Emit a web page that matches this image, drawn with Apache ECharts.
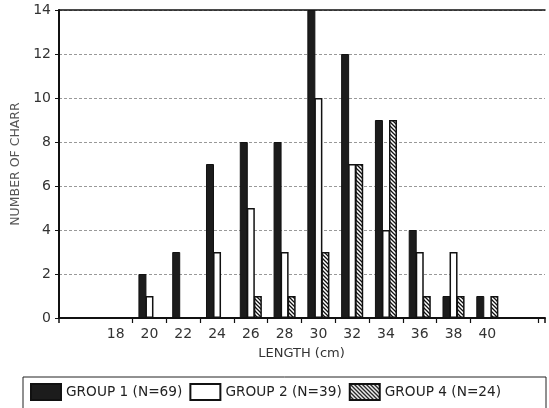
<!DOCTYPE html>
<html>
<head>
<meta charset="utf-8">
<script src="https://cdn.jsdelivr.net/npm/echarts@6/dist/echarts.min.js"></script>
<style>
html,body{margin:0;padding:0;background:#fff;}
#chart{width:549px;height:408px;}
</style>
</head>
<body>
<div id="chart"></div>
<script>
// ---- data ----
var categories = ["", "18", "20", "22", "24", "26", "28", "30", "32", "34", "36", "38", "40", ""];
var group1 = [0, 0, 2, 3, 7, 8, 8, 14, 12, 9, 4, 1, 1, 0];
var group2 = [0, 0, 1, 0, 3, 5, 3, 10, 7, 4, 3, 3, 0, 0];
var group4 = [0, 0, 0, 0, 0, 1, 1, 3, 7, 9, 1, 1, 1, 0];
var seriesNames = ["GROUP 1 (N=69)", "GROUP 2 (N=39)", "GROUP 4 (N=24)"];
var yTicks = [0, 2, 4, 6, 8, 10, 12, 14];

// hatch pattern
var pc = document.createElement('canvas');
pc.width = 4; pc.height = 4;
var ctx = pc.getContext('2d');
ctx.fillStyle = '#fff';
ctx.fillRect(0, 0, 4, 4);
ctx.strokeStyle = '#111';
ctx.lineWidth = 1.3;
ctx.beginPath();
ctx.moveTo(-1, -1); ctx.lineTo(5, 5);
ctx.moveTo(-1, 3); ctx.lineTo(1, 5);
ctx.moveTo(3, -1); ctx.lineTo(5, 1);
ctx.stroke();

function clean(arr) { return arr.map(function (v) { return v === 0 ? null : v; }); }

var font = 'DejaVu Sans';
var chart = echarts.init(document.getElementById('chart'), null, { renderer: 'canvas' });
chart.setOption({
  animation: false,
  backgroundColor: '#fff',
  textStyle: { fontFamily: font },
  grid: [
    { left: 59, right: 4, top: 10, bottom: 90 },
    { left: 65, right: 11, top: 10, bottom: 90 }
  ],
  xAxis: [
    { type: 'value', gridIndex: 0, min: 0, max: 1, interval: 1,
      axisLine: { show: true, lineStyle: { color: '#111', width: 2 } },
      axisTick: { show: true, length: 5, lineStyle: { color: '#111', width: 1.5 } },
      axisLabel: { show: false }, splitLine: { show: false } },
    { type: 'value', gridIndex: 0, position: 'top', min: 0, max: 1, interval: 1,
      axisLine: { show: true, lineStyle: { color: '#111', width: 1.5 } },
      axisTick: { show: false }, axisLabel: { show: false }, splitLine: { show: false } },
    { type: 'category', gridIndex: 1, data: categories, boundaryGap: true,
      axisLine: { show: false },
      axisTick: { show: true, length: 5, lineStyle: { color: '#111', width: 1.2 },
        interval: function (i) { return i >= 2 && i <= 12; } },
      axisLabel: { interval: 0, margin: 9, fontSize: 14, color: '#333', fontFamily: font },
      name: 'LENGTH (cm)', nameLocation: 'middle', nameGap: 29,
      nameTextStyle: { fontSize: 13, color: '#333', fontFamily: font } }
  ],
  yAxis: [
    { type: 'value', gridIndex: 0, min: 0, max: 14, interval: 2,
      axisLine: { show: true, lineStyle: { color: '#111', width: 2 } },
      axisTick: { show: true, length: 4, lineStyle: { color: '#111' } },
      axisLabel: { margin: 8, fontSize: 14, color: '#333', fontFamily: font,
        formatter: function (v) { return yTicks.indexOf(v) >= 0 ? String(v) : ''; } },
      splitLine: { show: true, lineStyle: { color: '#999', type: [3, 2], width: 1 } },
      name: 'NUMBER OF CHARR', nameLocation: 'middle', nameGap: 37,
      nameTextStyle: { fontSize: 12.5, color: '#555', fontFamily: font } },
    { type: 'value', gridIndex: 1, min: 0, max: 14, interval: 2, show: false,
      splitLine: { show: false } }
  ],
  legend: {
    left: 25, top: 378, itemWidth: 30, itemHeight: 16, itemGap: 7,
    selectedMode: false, icon: 'rect',
    textStyle: { fontSize: 13.7, color: '#222', fontFamily: font },
    data: seriesNames
  },
  graphic: [
    { type: 'rect', shape: { x: 23, y: 377, width: 523, height: 40 },
      style: { fill: 'none', stroke: '#222', lineWidth: 1 }, silent: true }
  ],
  series: [
    { name: seriesNames[0], type: 'bar', xAxisIndex: 2, yAxisIndex: 1, data: clean(group1),
      barWidth: 8, barGap: '-12%',
      itemStyle: { color: '#1c1c1c', borderColor: '#111', borderWidth: 1 } },
    { name: seriesNames[1], type: 'bar', xAxisIndex: 2, yAxisIndex: 1, data: clean(group2),
      barWidth: 8, barGap: '-12%',
      itemStyle: { color: '#fff', borderColor: '#111', borderWidth: 1.5 } },
    { name: seriesNames[2], type: 'bar', xAxisIndex: 2, yAxisIndex: 1, data: clean(group4),
      barWidth: 8, barGap: '-12%',
      itemStyle: { color: { image: pc, repeat: 'repeat' }, borderColor: '#111', borderWidth: 1.5 } }
  ]
});
</script>
</body>
</html>
